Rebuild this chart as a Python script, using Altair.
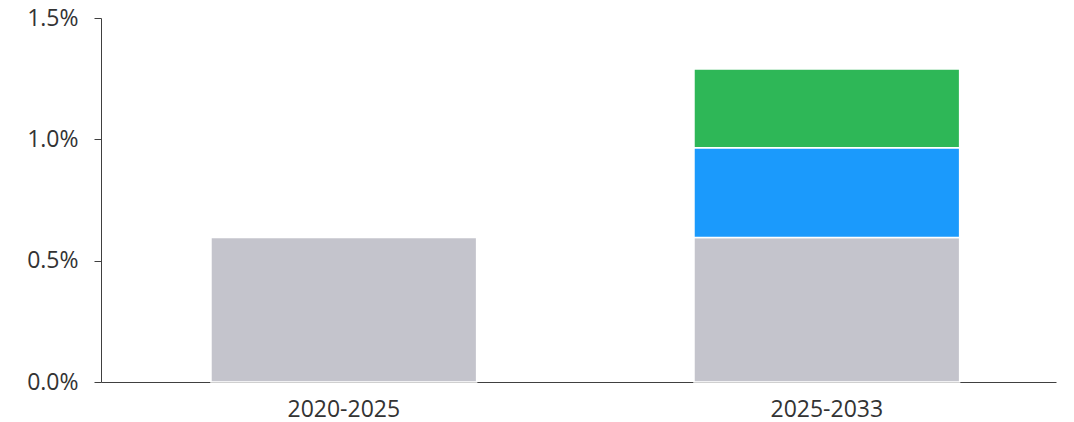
import altair as alt
import pandas as pd

periods = ["2020-2025", "2025-2033"]
series = ["base", "blue", "green"]
base_vals = [0.00595, 0.00595]
blue_vals = [0.0, 0.0037]
green_vals = [0.0, 0.00325]
colors = ["#C4C4CC", "#1B9AFC", "#2EB757"]
y_ticks = [0.0, 0.005, 0.010, 0.015]

rows = []
for i, p in enumerate(periods):
    for j, (s, vals) in enumerate(zip(series, [base_vals, blue_vals, green_vals])):
        if vals[i] > 0:
            rows.append({"period": p, "series": s, "value": vals[i], "order": j})
df = pd.DataFrame(rows)

chart = alt.Chart(df).mark_bar(stroke="white", strokeWidth=1.5).encode(
    x=alt.X("period:N", sort=periods, title=None,
            scale=alt.Scale(paddingInner=0.45, paddingOuter=0.2136, align=0.533),
            axis=alt.Axis(labelAngle=0, ticks=False, labelPadding=16,
                          labelFontSize=23, labelFont="Open Sans", labelColor="#333333",
                          domainColor="#404040", domainWidth=1)),
    y=alt.Y("value:Q", stack="zero", title=None,
            scale=alt.Scale(domain=[0, 0.015], nice=False),
            axis=alt.Axis(values=y_ticks, format=".1%", grid=False, tickSize=7,
                          labelPadding=16, labelFontSize=23, labelFont="Open Sans",
                          labelColor="#333333", domainColor="#404040", tickColor="#404040",
                          domainWidth=1, tickWidth=1)),
    color=alt.Color("series:N", scale=alt.Scale(domain=series, range=colors), legend=None),
    order=alt.Order("order:Q"),
).properties(
    width=955, height=364,
    autosize=alt.AutoSizeParams(type="none"),
    padding={"left": 93, "top": 10, "right": 10, "bottom": 40},
).configure_view(stroke=None)

chart.save("out.html", embed_options={"renderer": "svg", "actions": False})
